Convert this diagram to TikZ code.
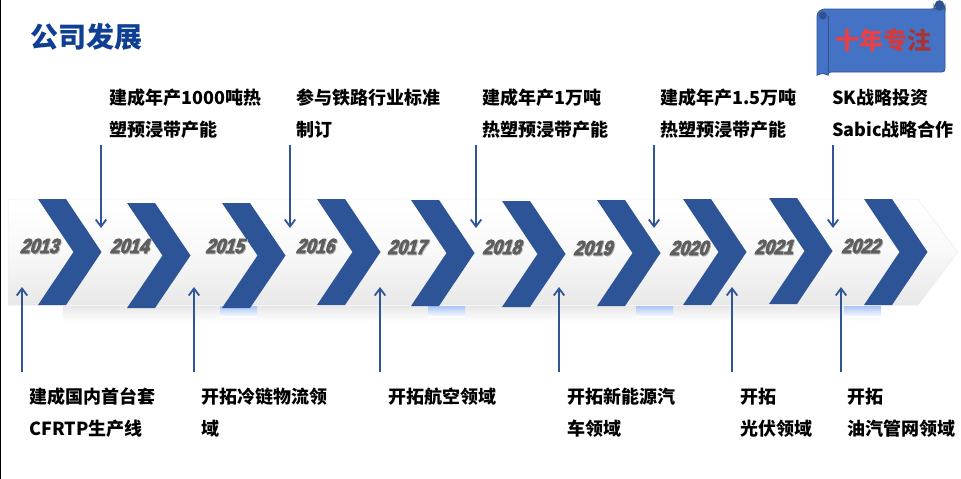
\documentclass[tikz,border=0pt]{standalone}
\usepackage{fontspec}
\usetikzlibrary{arrows.meta,shadings}
\newfontfamily\cjk{Noto Sans CJK SC}
\newfontfamily\yearfont[BoldFont=*,BoldItalicFont=*,FakeBold=4,FakeSlant=0.3,FakeStretch=0.84]{Liberation Sans Bold}
\definecolor{chev}{HTML}{2C5496}
\definecolor{arrowc}{HTML}{2F5597}
\definecolor{scroll}{HTML}{4472C4}
\definecolor{scrolld}{HTML}{2F528F}
\definecolor{titlec}{HTML}{0F3F94}
\definecolor{yearc}{HTML}{5E5E5E}
\definecolor{patch}{HTML}{A9C4F5}
\tikzset{
  txt/.style={anchor=north west,align=left,inner sep=0pt,font=\cjk\fontsize{18}{32}\selectfont\bfseries,text=black},
  yearlab/.style={inner sep=0pt,font=\yearfont\fontsize{20.5}{20}\selectfont,text=yearc},
  yearsh/.style={inner sep=0pt,font=\yearfont\fontsize{20.5}{20}\selectfont,text=black!30},
  conn/.style={draw=arrowc,line width=1.9pt,-{Straight Barb[length=7pt,width=10.5pt,line width=1.8pt]}},
}
\newcommand{\chevron}[3]{%
  \fill[chev] (#1,#2) -- ++(28,0) -- ++(35.5,#3/2) -- ++(-35.5,#3/2) -- ++(-28,0) -- ++(35.5,-#3/2) -- cycle;}
\newcommand{\yearnode}[4]{%
  \node[yearsh] at (#2+0.8,#3+0.9) {#4};
  \node[yearlab] (#1) at (#2,#3) {#4};}
\begin{document}
\begin{tikzpicture}[x=1pt,y=-1pt]
\useasboundingbox (0,0) rectangle (961,479);
\fill[white] (0,0) rectangle (961,479);
\fill[black] (0,0) rectangle (1.2,479);
% reflection
\shade[top color=black!9,bottom color=white] (63,306) rectangle (880,322);
\foreach \x in {220,428,636,844}
  \shade[top color=patch,bottom color=white] (\x,306) rectangle (\x+37,317);
% band
\shade[top color=white,bottom color=black!9,middle color=black!2.5,draw=black!7,line width=.5pt]
  (8,199) -- (918,199) -- (958,252) -- (918,305) -- (8,305) -- cycle;
% chevrons
\chevron{38}{199}{106}
\chevron{127}{203}{105}
\chevron{222}{203}{105}
\chevron{317}{199}{106}
\chevron{411}{200}{106}
\chevron{502}{201}{106}
\chevron{597}{200}{106}
\chevron{683}{199}{106}
\chevron{769}{198}{106}
\chevron{864}{199}{106}
% years
\yearnode{y13}{39}{246}{2013}
\yearnode{y14}{129}{246}{2014}
\yearnode{y15}{224.5}{246}{2015}
\yearnode{y16}{315}{246}{2016}
\yearnode{y17}{406.5}{247}{2017}
\yearnode{y18}{501.5}{247}{2018}
\yearnode{y19}{592.5}{248}{2019}
\yearnode{y20}{688.5}{248}{2020}
\yearnode{y21}{773.5}{247}{2021}
\yearnode{y22}{860.5}{246}{2022}
% title
\node[inner sep=0pt,anchor=west,font=\cjk\fontsize{28}{30}\selectfont\bfseries,text=titlec] (title) at (30,37) {公司发展};
% scroll
\fill[scroll,draw=scrolld,line width=.8pt,rounded corners=3pt]
  (828,72) -- (945,72) -- (945,5) -- (934,9) -- (822,9) -- (817,13) -- (817,78)
  arc[start angle=180,end angle=0,x radius=5.5,y radius=-4.5] -- cycle;
\fill[scroll,draw=scrolld,line width=.8pt]
  (934,9) -- (934,5) arc[start angle=180,end angle=0,x radius=5.5,y radius=5.5] -- (945,11) ;
\fill[scrolld] (939.5,5) circle[radius=4.8];
\fill[scrolld] (823,15.5) circle[radius=4];
\draw[scrolld,line width=.8pt] (828,16) -- (828,72);
\node[inner sep=0pt,font=\cjk\fontsize{24}{26}\selectfont\bfseries] (badge) at (883.5,40)
  {\textcolor[HTML]{EC3F41}{十年}\textcolor[HTML]{D23A3C}{专}\textcolor[HTML]{A83434}{注}};
% upper texts
\node[txt] (t1) at (109,88.5) {建成年产1000吨热\\塑预浸带产能};
\node[txt] (t2) at (296,88.5) {参与铁路行业标准\\制订};
\node[txt] (t3) at (482,88.5) {建成年产1万吨\\热塑预浸带产能};
\node[txt] (t4) at (660,88.5) {建成年产1.5万吨\\热塑预浸带产能};
\node[txt] (t5) at (832,88.5) {SK战略投资\\Sabic战略合作};
% lower texts
\node[txt] (b1) at (29.5,387.5) {建成国内首台套\\CFRTP生产线};
\node[txt] (b2) at (201,387.5) {开拓冷链物流领\\域};
\node[txt] (b3) at (388,387.5) {开拓航空领域};
\node[txt] (b4) at (567,387.5) {开拓新能源汽\\车领域};
\node[txt] (b5) at (740,387.5) {开拓\\光伏领域};
\node[txt] (b6) at (847,387.5) {开拓\\油汽管网领域};
% connector ends
\foreach \n/\x in {1/101,2/290,3/476,4/654,5/833} {
  \coordinate (ds\n) at (\x,145);
  \coordinate (de\n) at (\x,228);
  \draw[conn] (ds\n) -- (de\n);
}
\foreach \n/\x in {1/22,2/194,3/380,4/559,5/732,6/841} {
  \coordinate (us\n) at (\x,372);
  \coordinate (ue\n) at (\x,287);
  \draw[conn] (us\n) -- (ue\n);
}
\end{tikzpicture}
\end{document}
